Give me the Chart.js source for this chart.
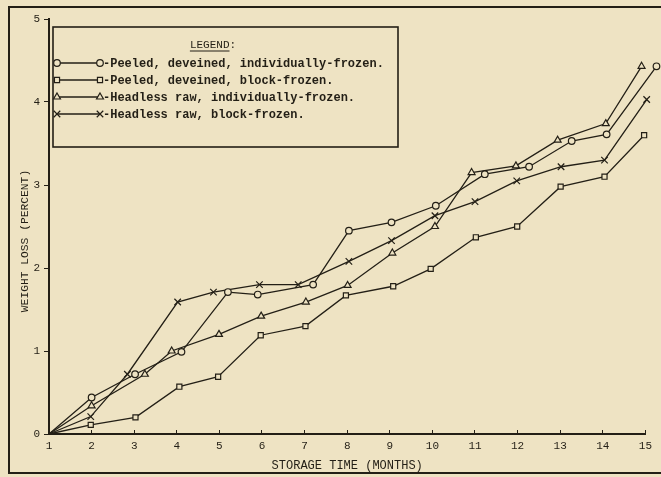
<!DOCTYPE html>
<html><head><meta charset="utf-8">
<script src="https://cdn.jsdelivr.net/npm/chart.js@4/dist/chart.umd.min.js"></script>
<style>html,body{margin:0;padding:0;background:#eee3c3;overflow:hidden}canvas{display:block}</style>
</head><body>
<canvas id="c" width="661" height="477"></canvas>
<script>
// ---- data ----
const monthsPeeledIndiv = [1, 2.0, 3.02, 4.11, 5.2, 5.9, 7.2, 8.04, 9.04, 10.08, 11.23, 12.27, 13.27, 14.09, 15.26];
const lossPeeledIndiv   = [0, 0.44, 0.72, 0.99, 1.71, 1.68, 1.80, 2.45, 2.55, 2.75, 3.13, 3.22, 3.53, 3.61, 4.43];

const monthsPeeledBlock = [1, 1.98, 3.03, 4.06, 4.97, 5.97, 7.02, 7.97, 9.08, 9.96, 11.02, 11.99, 13.01, 14.04, 14.97];
const lossPeeledBlock   = [0, 0.11, 0.20, 0.57, 0.69, 1.19, 1.30, 1.67, 1.78, 1.99, 2.37, 2.50, 2.98, 3.10, 3.60];

const monthsHeadlessIndiv = [1, 2.0, 3.25, 3.88, 4.99, 5.98, 7.03, 8.01, 9.06, 10.06, 10.92, 11.96, 12.94, 14.07, 14.91];
const lossHeadlessIndiv   = [0, 0.34, 0.72, 1.00, 1.20, 1.42, 1.59, 1.79, 2.18, 2.50, 3.15, 3.23, 3.54, 3.74, 4.43];

const monthsHeadlessBlock = [1, 1.98, 2.84, 4.02, 4.86, 5.94, 6.85, 8.04, 9.04, 10.06, 11.0, 11.98, 13.02, 14.04, 15.03];
const lossHeadlessBlock   = [0, 0.21, 0.72, 1.59, 1.71, 1.80, 1.80, 2.08, 2.33, 2.63, 2.80, 3.05, 3.22, 3.30, 4.03];

const seriesLabels = [
  'Peeled, deveined, individually-frozen.',
  'Peeled, deveined, block-frozen.',
  'Headless raw, individually-frozen.',
  'Headless raw, block-frozen.'
];
const legendTitle = 'LEGEND:';
const xTitle = 'STORAGE TIME (MONTHS)';
const yTitle = 'WEIGHT LOSS (PERCENT)';
const xRange = [1, 15];
const yRange = [0, 5];

// ---- styling ----
const INK = '#231f16';
const BG = '#eee3c3';
const FONT = '"Liberation Mono", "DejaVu Sans Mono", monospace';
const markers = [
  {pointStyle: 'circle', radius: 3.3},
  {pointStyle: 'rect', radius: 3.6},
  {pointStyle: 'triangle', radius: 4},
  {pointStyle: 'crossRot', radius: 4.6}
];

function pts(xs, ys) { return xs.map((x, i) => ({x: x, y: ys[i]})); }
const seriesData = [
  pts(monthsPeeledIndiv, lossPeeledIndiv),
  pts(monthsPeeledBlock, lossPeeledBlock),
  pts(monthsHeadlessIndiv, lossHeadlessIndiv),
  pts(monthsHeadlessBlock, lossHeadlessBlock)
];

const datasets = seriesData.map((d, i) => ({
  label: seriesLabels[i],
  data: d,
  borderColor: INK,
  backgroundColor: BG,
  borderWidth: 1.3,
  pointStyle: markers[i].pointStyle,
  pointRadius: ctx => ctx.dataIndex === 0 ? 0 : markers[i].radius,
  pointHoverRadius: ctx => ctx.dataIndex === 0 ? 0 : markers[i].radius,
  pointBorderWidth: 1.2,
  pointBackgroundColor: BG,
  pointBorderColor: INK,
  tension: 0,
  clip: false
}));

function drawMarker(ctx, m, x, y) {
  ctx.fillStyle = BG; ctx.strokeStyle = INK; ctx.lineWidth = 1.2;
  if (Chart.helpers && Chart.helpers.drawPoint) {
    Chart.helpers.drawPoint(ctx, {pointStyle: m.pointStyle, radius: m.radius, borderWidth: 1.2, rotation: 0}, x, y);
  } else {
    ctx.beginPath(); ctx.arc(x, y, m.radius, 0, Math.PI * 2); ctx.fill(); ctx.stroke();
  }
}

const decorPlugin = {
  id: 'decor',
  beforeDraw(chart) {
    const ctx = chart.ctx;
    ctx.save();
    ctx.fillStyle = BG;
    ctx.fillRect(0, 0, chart.width, chart.height);
    // outer frame
    ctx.strokeStyle = INK; ctx.lineWidth = 2;
    ctx.beginPath();
    ctx.moveTo(661, 7); ctx.lineTo(9, 7); ctx.lineTo(9, 473); ctx.lineTo(661, 473);
    ctx.stroke();
    // y-axis title
    ctx.fillStyle = INK;
    ctx.font = '11.3px ' + FONT;
    ctx.textAlign = 'center'; ctx.textBaseline = 'middle';
    ctx.translate(25, 241); ctx.rotate(-Math.PI / 2);
    ctx.fillText(yTitle, 0, 0);
    ctx.restore();
  },
  afterDatasetsDraw(chart) {
    // points lying clearly beyond the last axis tick (offset markers) are skipped
    // by Chart.js; draw those library elements explicitly.
    const ctx = chart.ctx;
    const area = chart.chartArea;
    const wide = {left: -1e4, top: -1e4, right: 1e4, bottom: 1e4};
    chart.data.datasets.forEach((ds, i) => {
      const meta = chart.getDatasetMeta(i);
      meta.data.forEach(el => {
        if (el.x > area.right + 7) el.draw(ctx, wide);
      });
    });
  },
  afterDraw(chart) {
    const ctx = chart.ctx;
    ctx.save();
    const bx = 53, by = 27, bw = 345, bh = 120;
    ctx.fillStyle = BG; ctx.fillRect(bx, by, bw, bh);
    ctx.strokeStyle = INK; ctx.lineWidth = 1.6; ctx.strokeRect(bx, by, bw, bh);
    ctx.fillStyle = INK;
    ctx.font = '11px ' + FONT;
    ctx.textAlign = 'left'; ctx.textBaseline = 'middle';
    const tw = ctx.measureText(legendTitle).width;
    const tl = ctx.measureText('LEGEND').width;
    const tx = 213 - tw / 2;
    ctx.fillText(legendTitle, tx, 45);
    ctx.lineWidth = 1; ctx.beginPath(); ctx.moveTo(tx, 51); ctx.lineTo(tx + tl, 51); ctx.stroke();
    const rows = [63, 80, 97, 114];
    chart.data.datasets.forEach((ds, i) => {
      const y = rows[i];
      ctx.strokeStyle = INK; ctx.lineWidth = 1.3;
      ctx.beginPath(); ctx.moveTo(57, y); ctx.lineTo(100, y); ctx.stroke();
      drawMarker(ctx, markers[i], 57, y);
      drawMarker(ctx, markers[i], 100, y);
      ctx.fillStyle = INK;
      ctx.font = 'bold 12px ' + FONT;
      ctx.textAlign = 'left'; ctx.textBaseline = 'middle';
      ctx.fillText('-' + ds.label, 103, y + 0.5);
    });
    ctx.restore();
  }
};

new Chart(document.getElementById('c'), {
  type: 'line',
  data: {datasets: datasets},
  plugins: [decorPlugin],
  options: {
    responsive: false,
    devicePixelRatio: 1,
    animation: false,
    layout: {padding: {top: 19, right: 15, left: 0, bottom: 0}},
    plugins: {legend: {display: false}, tooltip: {enabled: false}},
    scales: {
      x: {
        type: 'linear',
        min: xRange[0], max: xRange[1],
        afterFit: s => { s.height = 43; },
        ticks: {stepSize: 1, color: INK, font: {family: FONT, size: 11}, padding: 9, autoSkip: false, maxRotation: 0},
        grid: {drawOnChartArea: false, tickLength: -4, color: INK, lineWidth: 1},
        border: {display: true, color: INK, width: 2},
        title: {display: true, text: xTitle, color: INK, font: {family: FONT, size: 12}, padding: {top: 0, bottom: 4}}
      },
      y: {
        type: 'linear',
        min: yRange[0], max: yRange[1],
        afterFit: s => { s.width = 49; },
        ticks: {stepSize: 1, color: INK, font: {family: FONT, size: 11}, padding: 4},
        grid: {drawOnChartArea: false, tickLength: 5, color: INK, lineWidth: 1},
        border: {display: true, color: INK, width: 2}
      }
    }
  }
});
</script>
</body></html>
